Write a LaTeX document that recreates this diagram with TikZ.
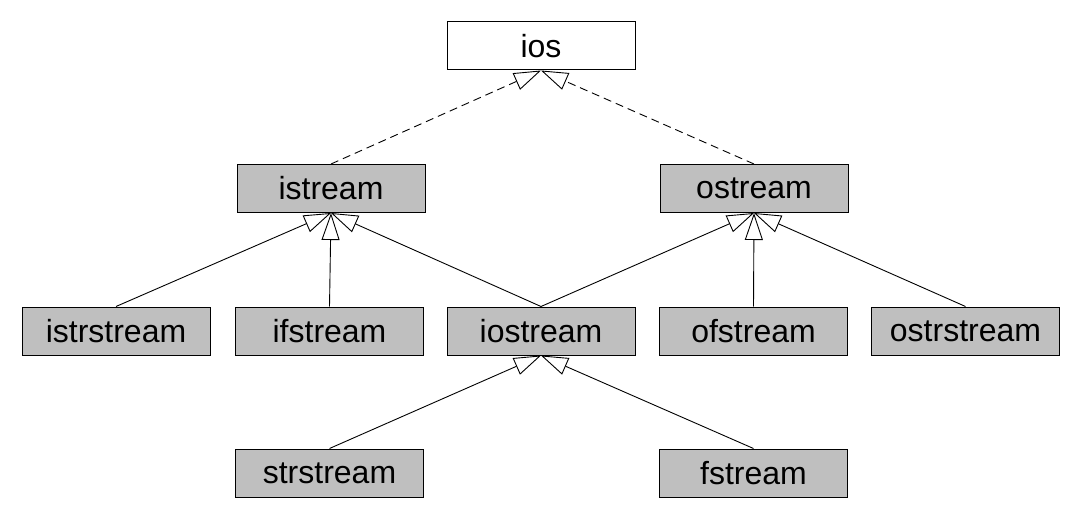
\documentclass[tikz,border=0pt]{standalone}
\usepackage{fontspec}
\setmainfont{Liberation Sans}
\usetikzlibrary{arrows.meta}
\begin{document}
\begin{tikzpicture}[x=1pt,y=-1pt,
  cls/.style={draw=black, line width=1pt, fill=black!25, minimum width=188pt,
    minimum height=48pt, inner sep=0pt, font=\fontsize{32}{36}\selectfont},
  root/.style={cls, fill=white},
  inherit/.style={draw=black, line width=0.9pt,
    -{Triangle[open, length=27pt, width=18pt, fill=white]}},
  virt/.style={inherit, dash pattern=on 8pt off 5pt}]
\useasboundingbox (0,0) rectangle (1086,521);
% class boxes
\node[root] (ios) at (541,46) {ios};
\node[cls] (istream) at (331,188.5) {istream};
\node[cls] (ostream) at (754,188.5) {ostream};
\node[cls] (istrstream) at (116,331) {istrstream};
\node[cls] (ifstream) at (329.5,331) {ifstream};
\node[cls] (iostream) at (541,331) {iostream};
\node[cls] (ofstream) at (753.5,331) {ofstream};
\node[cls] (ostrstream) at (965.5,331) {ostrstream};
\node[cls] (strstream) at (329.5,473) {strstream};
\node[cls] (fstream) at (753.5,473) {fstream};
% inheritance arrows
\draw[virt] (istream.north) -- (ios.south);
\draw[virt] (ostream.north) -- (ios.south);
\draw[inherit] (istrstream.north) -- (istream.south);
\draw[inherit] (ifstream.north) -- (istream.south);
\draw[inherit] (iostream.north) -- (istream.south);
\draw[inherit] (iostream.north) -- (ostream.south);
\draw[inherit] (ofstream.north) -- (ostream.south);
\draw[inherit] (ostrstream.north) -- (ostream.south);
\draw[inherit] (strstream.north) -- (iostream.south);
\draw[inherit] (fstream.north) -- (iostream.south);
\end{tikzpicture}
\end{document}
